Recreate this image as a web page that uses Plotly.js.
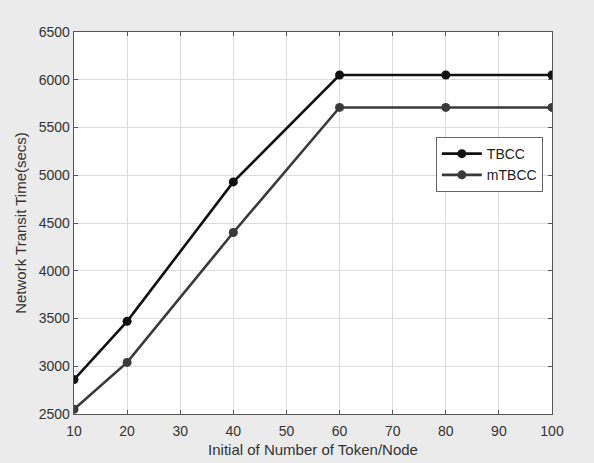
<!DOCTYPE html>
<html>
<head>
<meta charset="utf-8">
<script src="https://cdn.plot.ly/plotly-3.0.1.min.js"></script>
<style>html,body{margin:0;padding:0;background:#ebebeb;}</style>
</head>
<body>
<div id="chart" style="width:594px;height:463px;"></div>
<script>
const tokens = [10, 20, 40, 60, 80, 100];
const tbcc = [2860, 3470, 4930, 6050, 6050, 6050];
const mtbcc = [2550, 3040, 4400, 5710, 5710, 5710];
const xTicks = [10, 20, 30, 40, 50, 60, 70, 80, 90, 100];
const yTicks = [2500, 3000, 3500, 4000, 4500, 5000, 5500, 6000, 6500];

const traces = [
  {x: tokens, y: tbcc, name: 'TBCC', mode: 'lines+markers',
   line: {color: '#111111', width: 2.6}, marker: {color: '#111111', size: 9}},
  {x: tokens, y: mtbcc, name: 'mTBCC', mode: 'lines+markers',
   line: {color: '#3a3a3a', width: 2.6}, marker: {color: '#3a3a3a', size: 9}}
];

const axisCommon = {
  showline: true, mirror: 'ticks', linecolor: '#555', linewidth: 1.3,
  ticks: 'inside', ticklen: 4, tickcolor: '#555',
  showgrid: true, gridcolor: '#dcdcdc', gridwidth: 1,
  zeroline: false, tickfont: {family: 'Liberation Sans, Arial, sans-serif', size: 14, color: '#333'}
};

const layout = {
  width: 594, height: 463,
  paper_bgcolor: '#ebebeb', plot_bgcolor: '#ffffff',
  margin: {l: 74, r: 42, t: 32, b: 49},
  showlegend: true,
  font: {family: 'Liberation Sans, Arial, sans-serif', color: '#333'},
  xaxis: Object.assign({}, axisCommon, {
    range: [10, 100], tickvals: xTicks, ticktext: xTicks.map(String),
    ticklabelstandoff: 4,
    title: {text: 'Initial of Number of Token/Node', font: {size: 15, color: '#333'}, standoff: 6}
  }),
  yaxis: Object.assign({}, axisCommon, {
    range: [2500, 6500], tickvals: yTicks, ticktext: yTicks.map(String),
    title: {text: 'Network Transit Time(secs)', font: {size: 15, color: '#333'}, standoff: 8}
  }),
  legend: {
    x: 0.757, y: 0.725, xanchor: 'left', yanchor: 'top',
    bgcolor: '#ffffff', bordercolor: '#666', borderwidth: 1,
    font: {size: 14, color: '#222'}, tracegroupgap: 0, itemwidth: 40
  }
};

Plotly.newPlot('chart', traces, layout, {displayModeBar: false, staticPlot: true});
</script>
</body>
</html>
